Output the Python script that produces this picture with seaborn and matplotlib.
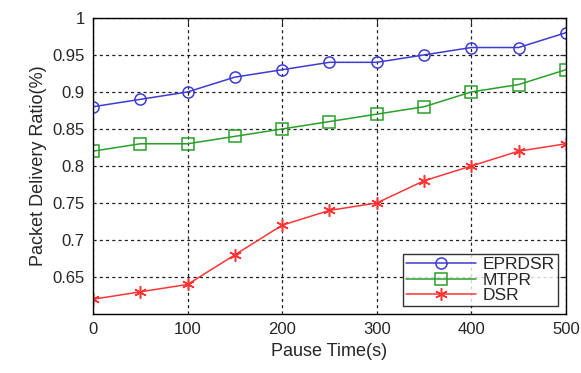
import matplotlib
matplotlib.use("Agg")
import matplotlib.pyplot as plt
import seaborn as sns
import pandas as pd

# ── Data ─────────────────────────────────────────────────────────────────────
pause_time = [0, 50, 100, 150, 200, 250, 300, 350, 400, 450, 500]
eprdsr = [0.88, 0.89, 0.90, 0.92, 0.93, 0.94, 0.94, 0.95, 0.96, 0.96, 0.98]
mtpr = [0.82, 0.83, 0.83, 0.84, 0.85, 0.86, 0.87, 0.88, 0.90, 0.91, 0.93]
dsr = [0.62, 0.63, 0.64, 0.68, 0.72, 0.74, 0.75, 0.78, 0.80, 0.82, 0.83]

series = {"EPRDSR": eprdsr, "MTPR": mtpr, "DSR": dsr}
colors = {"EPRDSR": "#3c3cd2", "MTPR": "#2a9f2a", "DSR": "#ff3535"}
# matlab-style markers: open circle, open square, asterisk
markers = {"EPRDSR": "o", "MTPR": "s", "DSR": (6, 2, 0)}
msizes = {"EPRDSR": 8, "MTPR": 8, "DSR": 9}

df = pd.concat(
    [pd.DataFrame({"Pause": pause_time, "PDR": v, "Protocol": k}) for k, v in series.items()],
    ignore_index=True,
)

# ── Plot ─────────────────────────────────────────────────────────────────────
sns.set_style("white")
plt.rcParams["font.family"] = ["Liberation Sans", "DejaVu Sans"]

fig = plt.figure(figsize=(5.81, 3.73), dpi=100)
ax = fig.add_axes([0.160, 0.158, 0.814, 0.794])

for name in series:
    sub = df[df["Protocol"] == name]
    sns.lineplot(
        data=sub, x="Pause", y="PDR", ax=ax, color=colors[name], label=name,
        marker=markers[name], markersize=msizes[name],
        markerfacecolor="none", markeredgecolor=colors[name],
        markeredgewidth=1.1, linewidth=1.1,
    )

ax.set_xlim(0, 500)
ax.set_ylim(0.6, 1.0)
ax.set_xticks(range(0, 501, 100))
ax.set_yticks([0.65, 0.7, 0.75, 0.8, 0.85, 0.9, 0.95, 1.0])
ax.set_yticklabels(["0.65", "0.7", "0.75", "0.8", "0.85", "0.9", "0.95", "1"])
ax.grid(True, color="#202020", linestyle=(0, (2.5, 2.5)), linewidth=0.9)
ax.tick_params(direction="in", length=4, labelsize=12, pad=6, top=True, right=True)
for s in ax.spines.values():
    s.set_color("black")
    s.set_linewidth(1.0)

ax.set_xlabel("Pause Time(s)", fontsize=13)
ax.set_ylabel("Packet Delivery Ratio(%)", fontsize=13)

leg = ax.legend(loc="lower right", fontsize=12.5, frameon=True, fancybox=False,
                edgecolor="black", handlelength=4.0, borderpad=0.2,
                labelspacing=0.0, handletextpad=0.4, borderaxespad=0.45)
leg.get_frame().set_linewidth(1.0)

plt.savefig("out.png", dpi=100)
plt.close()
